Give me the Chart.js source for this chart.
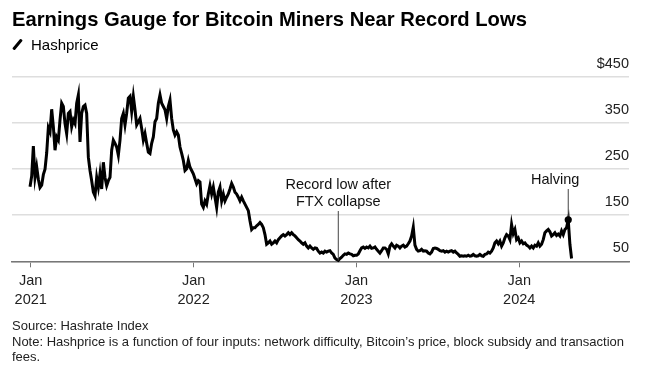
<!DOCTYPE html>
<html>
<head>
<meta charset="utf-8">
<script src="https://cdn.jsdelivr.net/npm/chart.js@4.4.1/dist/chart.umd.min.js"></script>
<style>
  body { margin: 0; background: #fff; }
  #wrap { position: relative; width: 650px; height: 368px; font-family: "Liberation Sans", Arial, sans-serif; }
  #chart { position: absolute; left: 0; top: 0; }
  .title { position: absolute; left: 12px; top: 8px; font-size: 20.2px; font-weight: bold; color: #000; }
  .legend { position: absolute; left: 31px; top: 36px; font-size: 15px; color: #000; }
  .slash { position: absolute; left: 16px; top: 38px; width: 3px; height: 13px; background: #000; transform: rotate(40deg); border-radius: 1px; }
  .foot { position: absolute; left: 12px; top: 318px; font-size: 13px; line-height: 15.7px; color: #222; }
</style>
</head>
<body>
<div id="wrap">
  <canvas id="chart" width="650" height="368"></canvas>
  <div class="title">Earnings Gauge for Bitcoin Miners Near Record Lows</div>
  <div class="slash"></div>
  <div class="legend">Hashprice</div>
  <div class="foot">Source: Hashrate Index<br>Note: Hashprice is a function of four inputs: network difficulty, Bitcoin’s price, block subsidy and transaction<br>fees.</div>
</div>
<script>
// Hashprice readings, one every ~3.73 days starting 2020-12-30 ($/PH/day)
const firstDay = -1.6;      // days relative to 2021-01-01
const stepDays = 3.735;
const hashprice = [
  212, 235, 300, 232, 255, 228, 210, 215, 238, 250, 285, 340, 331, 380, 342, 291,
  320, 313, 357, 393, 386, 349, 327, 371, 375, 342, 357, 349, 393, 411, 309, 371,
  386, 389, 371, 276, 247, 225, 200, 192, 232, 211, 240, 207, 265, 232, 214, 225,
  232, 291, 313, 306, 298, 280, 313, 360, 371, 346, 371, 404, 408, 375, 408, 379,
  346, 353, 360, 338, 313, 327, 306, 287, 284, 306, 320, 353, 360, 393, 411, 393,
  386, 379, 360, 386, 400, 360, 335, 324, 331, 324, 298, 284, 269, 247, 251, 269,
  254, 247, 240, 229, 218, 225, 222, 174, 167, 181, 174, 196, 214, 196, 211, 189,
  167, 200, 211, 181, 196, 181, 189, 196, 207, 219, 211, 200, 196, 189, 181, 189,
  181, 174, 167, 160, 138, 119, 123, 123, 127, 130, 134, 130, 123, 108, 87, 90,
  94, 87, 90, 94, 90, 97, 101, 105, 108, 105, 108, 112, 108, 112, 108, 105,
  101, 97, 94, 90, 87, 90, 83, 79, 83, 79, 76, 79, 78, 72, 68, 70,
  68, 72, 70, 72, 73,
  68, 65, 57, 54, 52, 56, 59, 63, 66, 65, 68, 66, 65, 62, 63, 63,
  66, 73, 79, 81, 78, 81, 79, 83, 78, 79, 81, 76, 72, 68, 73, 79,
  79, 76, 66, 83, 88, 83, 79, 85, 83, 79, 83, 85, 81, 83, 88, 94,
  105, 124, 85, 76, 72, 73, 76, 72, 73, 72, 68, 66, 70, 78, 79, 78,
  76, 73, 72, 73, 70, 72, 70, 72, 73, 70, 72, 68, 65, 61, 62, 61,
  62, 61, 63, 61, 62, 65, 62, 61, 62, 65, 62, 61, 65, 66, 70, 68,
  72, 79, 90, 94, 88, 94, 83, 90, 101, 108, 105, 97, 130, 110, 119, 97,
  101, 90, 94, 88, 90, 85, 83, 79, 83, 79, 85, 83, 90, 83, 87, 97,
  112, 116, 119, 114, 105, 108, 112, 106, 109, 105, 116, 108, 119, 123, 140, 87,
  56
];

const xTickDays = [0, 365, 730, 1095];
const xTickLabels = [["Jan", "2021"], ["Jan", "2022"], ["Jan", "2023"], ["Jan", "2024"]];
const yTicks = [50, 150, 250, 350, 450];

const halvingDay = 1205;   // 2024-04-20
const notes = [
  { text: ["Record low after", "FTX collapse"], textX: 0, textY: 185 },
  { text: ["Halving"], textX: -13, textY: 180 }
];

const points = hashprice.map((v, i) => ({ x: firstDay + i * stepDays, y: v }));
const lowIndex = hashprice.indexOf(Math.min(...hashprice));
let halvingIndex = 0;
points.forEach((p, i) => {
  if (Math.abs(p.x - halvingDay) < Math.abs(points[halvingIndex].x - halvingDay)) halvingIndex = i;
});

// leader lines + labels for the two callouts
const calloutPlugin = {
  id: "callouts",
  afterDatasetsDraw(chart) {
    const { ctx, scales } = chart;
    const targets = [lowIndex, halvingIndex];
    ctx.save();
    ctx.font = "14.5px 'Liberation Sans', Arial, sans-serif";
    ctx.textAlign = "center";
    ctx.textBaseline = "middle";
    notes.forEach((n, k) => {
      const p = points[targets[k]];
      const px = scales.x.getPixelForValue(p.x);
      const py = scales.y.getPixelForValue(p.y);
      const lineTop = n.textY + (n.text.length - 1) * 17 + 9;
      ctx.strokeStyle = "#444";
      ctx.lineWidth = 1;
      ctx.beginPath();
      ctx.moveTo(px, lineTop);
      ctx.lineTo(px, py);
      ctx.stroke();
      ctx.fillStyle = "#111";
      n.text.forEach((t, j) => ctx.fillText(t, px + n.textX, n.textY + j * 17));
    });
    // halving dot
    const h = points[halvingIndex];
    ctx.fillStyle = "#000";
    ctx.beginPath();
    ctx.arc(scales.x.getPixelForValue(h.x), scales.y.getPixelForValue(h.y), 3.6, 0, Math.PI * 2);
    ctx.fill();
    ctx.restore();
  }
};

const ctx = document.getElementById("chart").getContext("2d");
const chart = new Chart(ctx, {
  type: "line",
  data: {
    datasets: [
      {
        label: "Hashprice",
        data: points,
        borderColor: "#000",
        borderWidth: 3,
        pointRadius: 0,
        tension: 0,
        fill: false,
        clip: false,
      },
    ],
  },
  options: {
    responsive: false,
    animation: false,
    layout: { padding: { left: 12, right: 21, top: 77, bottom: 55 } },
    plugins: { legend: { display: false }, tooltip: { enabled: false } },
    scales: {
      x: {
        type: "linear",
        min: -42,
        max: 1341,
        afterBuildTicks: (scale) => {
          scale.ticks = xTickDays.map((v) => ({ value: v }));
        },
        grid: { drawOnChartArea: false, drawTicks: true, tickLength: 6, color: "#777", lineWidth: 1 },
        border: { display: true, color: "#777", width: 1.5 },
        ticks: {
          autoSkip: false,
          maxRotation: 0,
          padding: 4,
          color: "#222",
          font: { family: "'Liberation Sans', Arial, sans-serif", size: 14.5, lineHeight: 1.3 },
          callback: (v, i) => xTickLabels[i],
        },
      },
      y: {
        position: "right",
        min: 50,
        max: 450,
        afterBuildTicks: (scale) => {
          scale.ticks = yTicks.map((v) => ({ value: v }));
        },
        grid: { color: "#dedede", lineWidth: 1.5, drawTicks: false },
        border: { display: false },
        ticks: {
          mirror: true,
          padding: 0,
          labelOffset: -13,
          color: "#222",
          font: { family: "'Liberation Sans', Arial, sans-serif", size: 14.5 },
          callback: (v) => (v === 450 ? "$" + v : String(v)),
        },
      },
    },
  },
  plugins: [calloutPlugin],
});
</script>
</body>
</html>
